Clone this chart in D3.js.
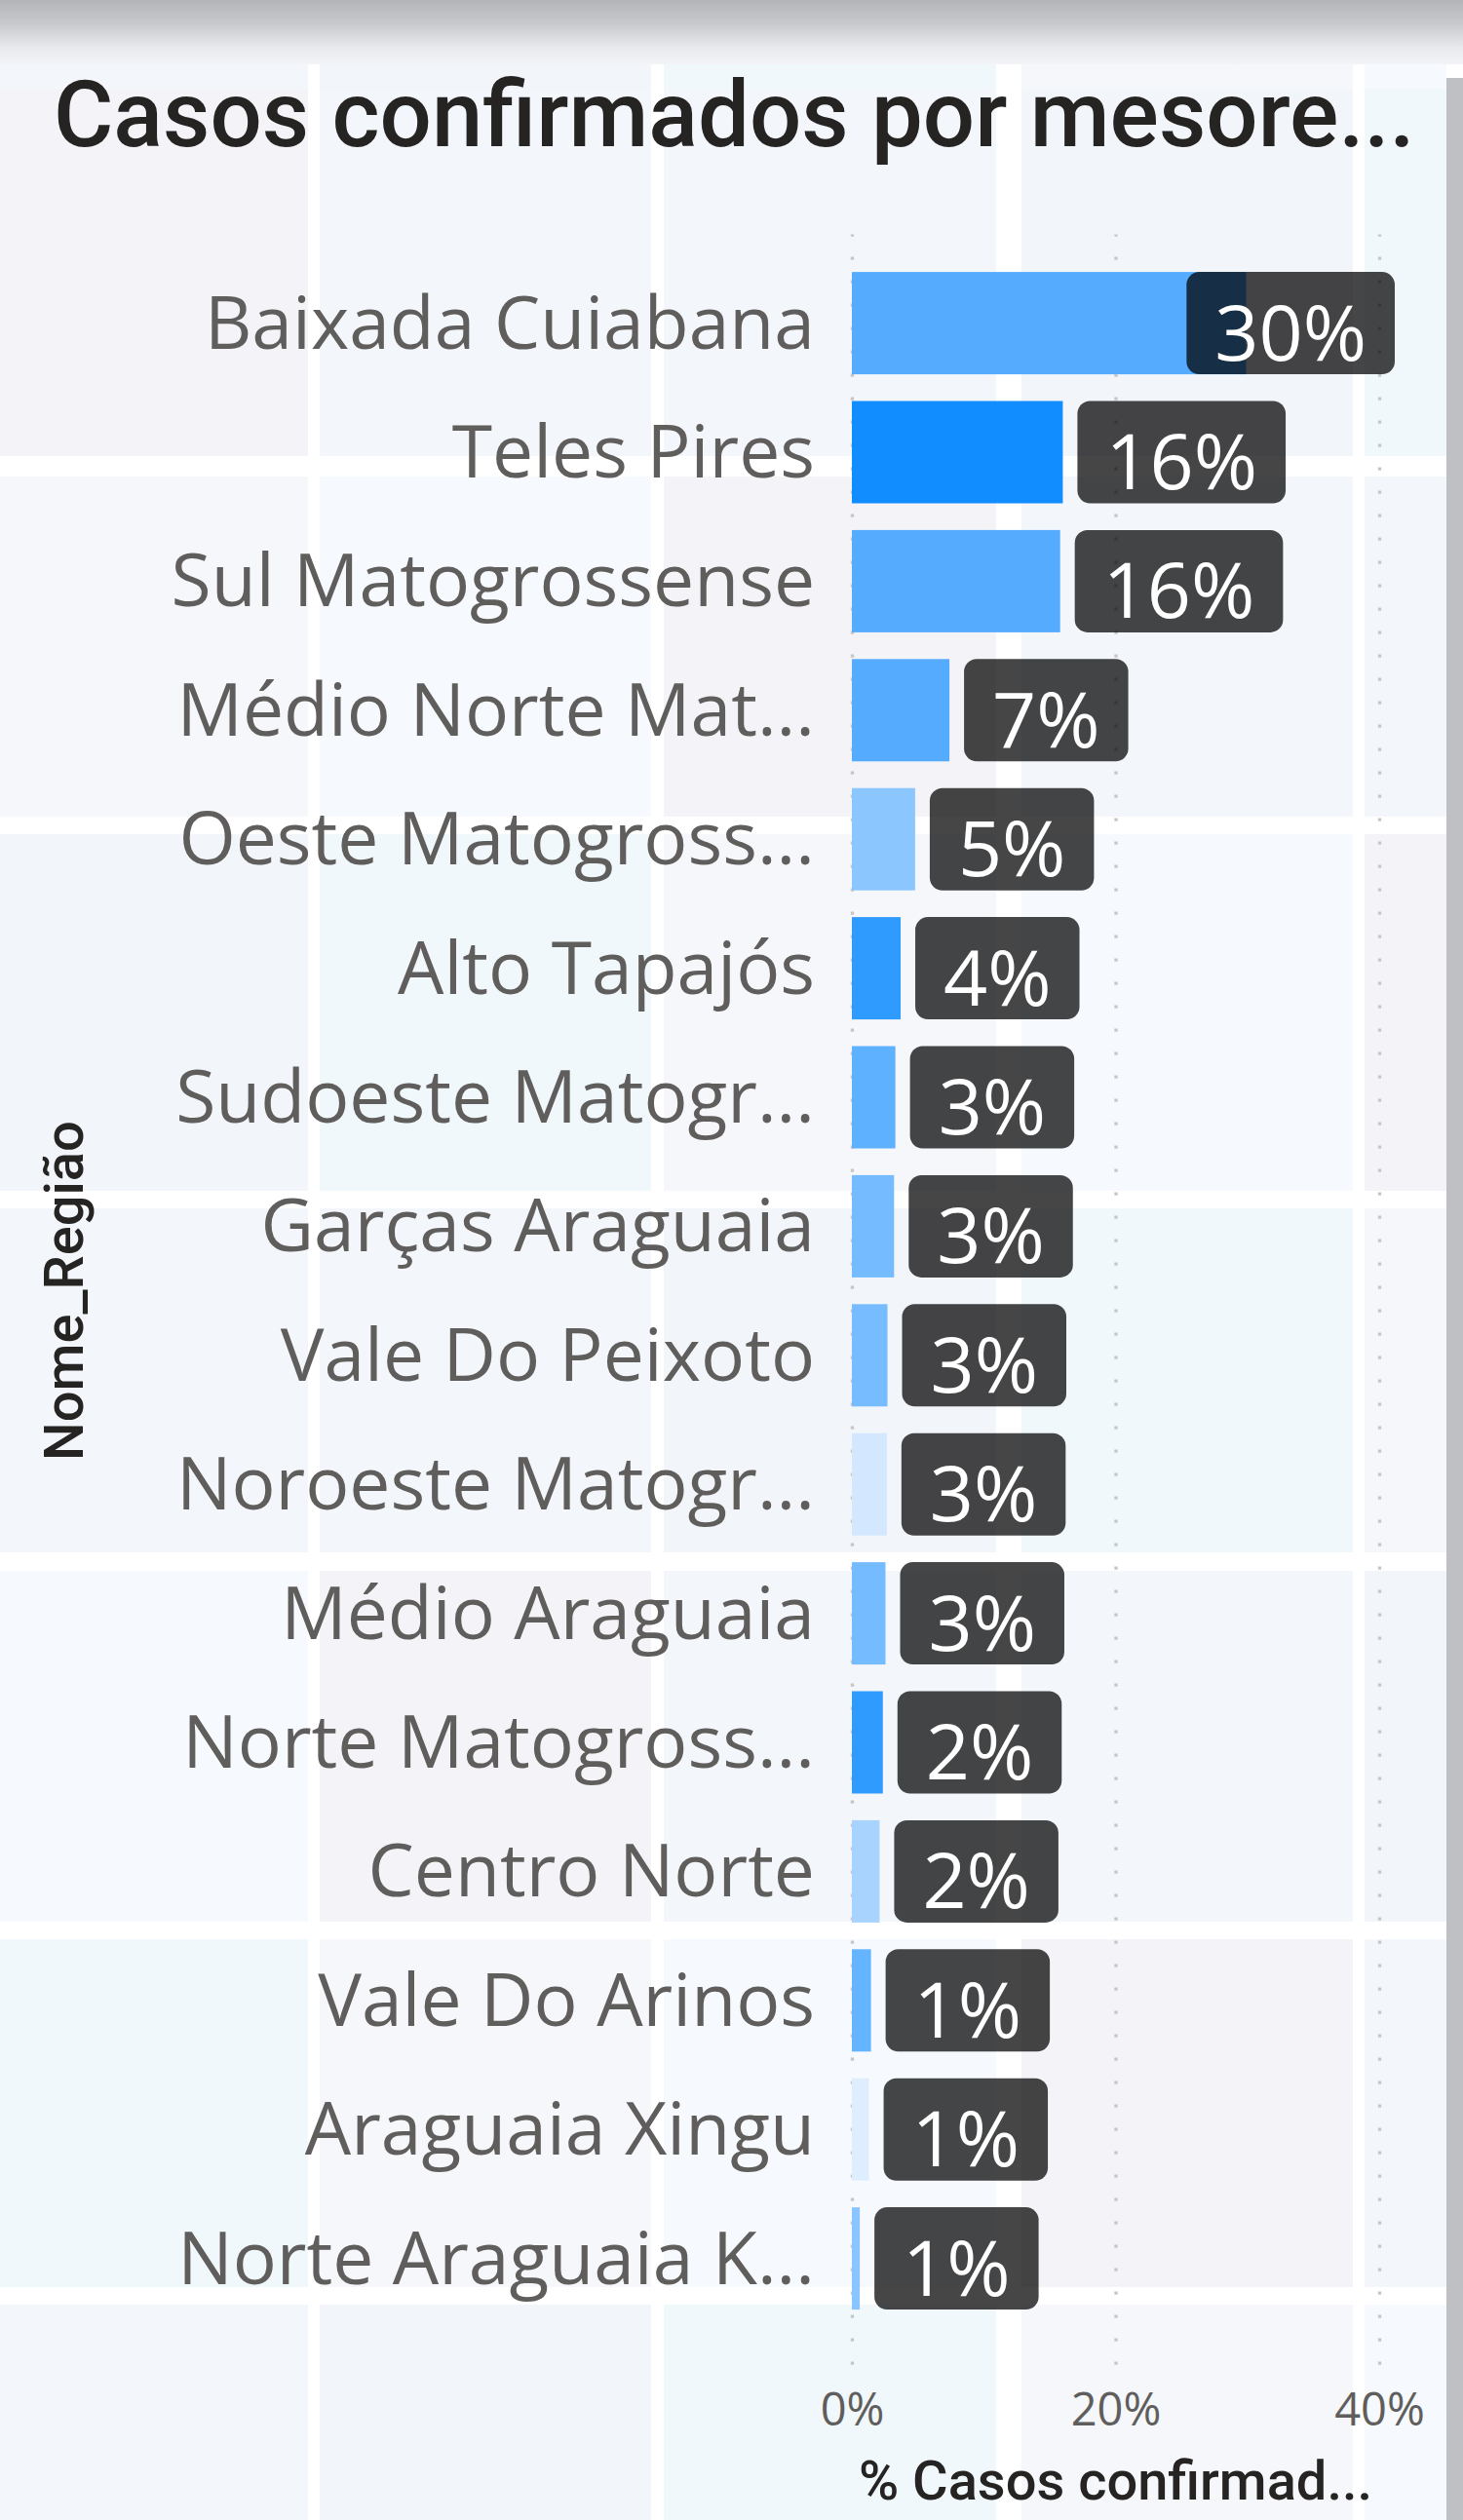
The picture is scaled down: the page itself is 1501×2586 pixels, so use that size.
<!DOCTYPE html>
<html>
<head>
<meta charset="utf-8">
<script src="https://cdnjs.cloudflare.com/ajax/libs/d3/7.8.5/d3.min.js"></script>
<style>
  html, body { margin: 0; padding: 0; background: #ffffff; }
  svg { display: block; }
</style>
</head>
<body>
<svg id="chart" width="1501" height="2586"></svg>
<script>
// ---------- DATA ----------
const categories = [
  "Baixada Cuiabana", "Teles Pires", "Sul Matogrossense", "Médio Norte Mat...",
  "Oeste Matogross...", "Alto Tapajós", "Sudoeste Matogr...", "Garças Araguaia",
  "Vale Do Peixoto", "Noroeste Matogr...", "Médio Araguaia", "Norte Matogross...",
  "Centro Norte", "Vale Do Arinos", "Araguaia Xingu", "Norte Araguaia K..."
];
const values = [29.9, 16.0, 15.8, 7.4, 4.8, 3.7, 3.3, 3.2, 2.7, 2.65, 2.55, 2.35, 2.1, 1.45, 1.3, 0.6];
const barColors = [
  "#55acff", "#118dff", "#55acff", "#55acff", "#8cc6ff", "#2f9bff", "#5eb1ff", "#74bbff",
  "#76bcff", "#d3e8ff", "#75bbff", "#2f9bff", "#a8d3ff", "#64b4ff", "#deeeff", "#8ac5ff"
];
const xTicks = [0, 20, 40];
const titleText = "Casos confirmados por mesore...";
const xTitleText = "% Casos confirmad...";
const yTitleText = "Nome_Região";

// ---------- SETUP ----------
const svg = d3.select("#chart");
const W = 1501, H = 2586;

const defs = svg.append("defs");
const g1 = defs.append("linearGradient").attr("id", "topShade").attr("x1", 0).attr("y1", 0).attr("x2", 0).attr("y2", 1);
g1.append("stop").attr("offset", "0%").attr("stop-color", "#b3b5b8");
g1.append("stop").attr("offset", "35%").attr("stop-color", "#c6c8cb");
g1.append("stop").attr("offset", "75%").attr("stop-color", "#e8eaee");
g1.append("stop").attr("offset", "100%").attr("stop-color", "#f2f4f8");

svg.append("rect").attr("width", W).attr("height", H).attr("fill", "#ffffff");

const tileCols = [[0, 316], [328, 668], [681, 1022], [1048, 1388], [1400, 1484]];
const tileRows = [[66, 91], [91, 468], [489, 838], [856, 1222], [1240, 1593], [1612, 1972], [1990, 2347], [2365, 2586]];
const tilePalette = ["#f3f6fb", "#f6f9fd", "#f2f5f9", "#f4f4f8", "#f1f8fb", "#f3f6fa", "#f5f7fb"];
tileRows.forEach((r, ri) => {
  tileCols.forEach((c, ci) => {
    svg.append("rect")
      .attr("x", c[0]).attr("y", r[0])
      .attr("width", c[1] - c[0]).attr("height", r[1] - r[0])
      .attr("fill", tilePalette[(ri * 3 + ci * 2) % tilePalette.length]);
  });
});
svg.append("rect").attr("x", 0).attr("y", 0).attr("width", W).attr("height", 66).attr("fill", "url(#topShade)");
svg.append("rect").attr("x", 1484).attr("y", 80).attr("width", W - 1484).attr("height", H - 80).attr("fill", "#bec0c3");

// ---------- SCALES ----------
const x = d3.scaleLinear().domain([0, 40]).range([874, 1415]);
const y = d3.scaleBand().domain(categories).range([265.4, 2383.8]).paddingInner(0.207).paddingOuter(0.1035);

const gridTop = y.range()[0] - 25;
const gridBottom = y.range()[1] + 43;

const grid = svg.append("g")
  .attr("transform", `translate(0,${gridBottom})`)
  .call(d3.axisBottom(x).tickValues(xTicks).tickSize(-(gridBottom - gridTop)).tickFormat(""));
grid.select(".domain").remove();
grid.selectAll(".tick line")
  .attr("stroke", "#c8c6c4").attr("stroke-width", 3.3)
  .attr("stroke-dasharray", "3.3 20.7");

// ---------- BARS ----------
const data = categories.map((c, i) => ({ cat: c, v: values[i], color: barColors[i] }));

svg.append("g").selectAll("rect")
  .data(data).join("rect")
  .attr("x", x(0))
  .attr("y", d => y(d.cat))
  .attr("width", d => x(d.v) - x(0))
  .attr("height", y.bandwidth())
  .attr("fill", d => d.color);

// ---------- CATEGORY LABELS ----------
const yAxis = svg.append("g")
  .attr("transform", `translate(${x(0) - 38},0)`)
  .call(d3.axisLeft(y).tickSize(0).tickPadding(0));
yAxis.select(".domain").remove();
yAxis.selectAll("text")
  .attr("fill", "#605e5c")
  .attr("font-family", "'Open Sans', 'Noto Sans', sans-serif")
  .attr("font-size", 75)
  .attr("dy", 26);

// ---------- DATA LABELS ----------
const fmt = v => d3.format(".0f")(v) + "%";
const lblG = svg.append("g");
const padX = 29;
const maxRight = x(40) + 16;
data.forEach(d => {
  const g = lblG.append("g");
  const box = g.append("rect");
  const t = g.append("text")
    .text(fmt(d.v))
    .attr("fill", "#ffffff")
    .attr("font-family", "'Open Sans', 'Noto Sans', sans-serif")
    .attr("font-weight", 400)
    .attr("font-size", 79)
    .attr("text-anchor", "middle");
  const tw = t.node().getComputedTextLength();
  const bw = tw + 2 * padX;
  let bx = x(d.v) + 15;
  if (bx + bw > maxRight) bx = maxRight - bw;
  const by = y(d.cat), bh = y.bandwidth();
  box.attr("x", bx).attr("y", by).attr("width", bw).attr("height", bh)
    .attr("rx", 13).attr("ry", 13)
    .attr("fill", "#000000").attr("fill-opacity", 0.725);
  t.attr("x", bx + bw / 2).attr("y", by + bh / 2 + 38);
});

// ---------- X AXIS ----------
const xAxis = svg.append("g")
  .attr("transform", `translate(0,${gridBottom})`)
  .call(d3.axisBottom(x).tickValues(xTicks).tickSize(0).tickFormat(d => d + "%"));
xAxis.select(".domain").remove();
xAxis.selectAll("text")
  .attr("fill", "#605e5c")
  .attr("font-family", "'Open Sans', 'Noto Sans', sans-serif")
  .attr("font-size", 47)
  .attr("y", 62).attr("dy", 0);

// ---------- TITLES ----------
svg.append("text")
  .attr("x", 55).attr("y", 150)
  .attr("fill", "#252423")
  .attr("font-family", "Roboto, sans-serif")
  .attr("font-weight", 500)
  .attr("font-size", 94)
  .text(titleText);

svg.append("text")
  .attr("x", x(20)).attr("y", 2565)
  .attr("text-anchor", "middle")
  .attr("fill", "#252423")
  .attr("font-family", "Roboto, sans-serif")
  .attr("font-weight", 500)
  .attr("font-size", 56)
  .text(xTitleText);

svg.append("text")
  .attr("transform", `translate(85,${(y.range()[0] + y.range()[1]) / 2}) rotate(-90)`)
  .attr("text-anchor", "middle")
  .attr("fill", "#252423")
  .attr("font-family", "Roboto, sans-serif")
  .attr("font-weight", 500)
  .attr("font-size", 56)
  .text(yTitleText);
</script>
</body>
</html>
